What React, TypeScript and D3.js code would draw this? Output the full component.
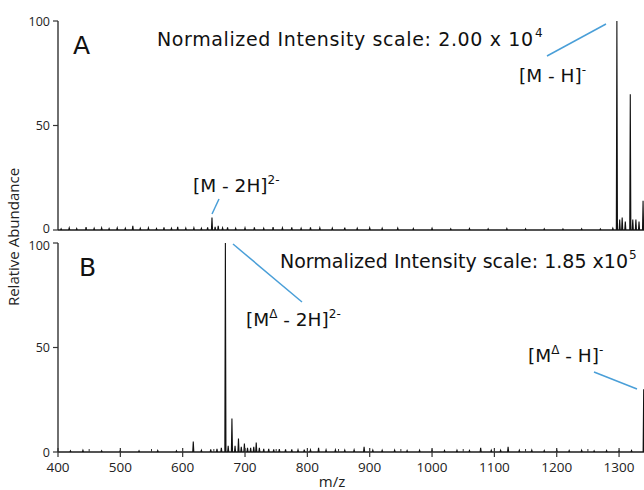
import React from "react";
import * as d3 from "d3";

// Panel A peaks: [m/z, relative abundance]
const peaksA: [number, number][] = [
  [405, 0.6], [418, 1.0], [430, 0.7], [445, 1.4], [458, 0.8], [470, 1.0], [482, 0.7],
  [495, 1.0], [508, 0.8], [520, 2.0], [532, 0.8], [545, 1.0], [558, 0.7], [570, 1.2],
  [582, 0.8], [592, 1.5], [605, 0.9], [618, 1.0], [630, 0.8], [640, 1.2], [647, 6.0],
  [652, 1.5], [657, 2.0], [664, 1.0], [672, 1.2], [685, 0.8], [700, 1.0], [715, 1.2],
  [730, 0.8], [745, 1.4], [760, 1.0], [775, 1.2], [790, 0.8], [805, 1.3], [820, 1.0],
  [840, 0.9], [860, 1.1], [880, 0.8], [900, 1.0], [920, 0.8], [945, 0.9], [970, 0.7],
  [1000, 0.8], [1030, 0.6], [1060, 0.7], [1090, 0.6], [1120, 0.7], [1150, 0.6],
  [1180, 0.6], [1210, 0.5], [1240, 0.6], [1270, 0.5], [1290, 0.8],
  [1296.5, 100], [1301, 5], [1305, 6], [1310, 4], [1318, 65], [1322, 5], [1327, 5],
  [1332, 4], [1338.5, 14],
];

// Panel B peaks
const peaksB: [number, number][] = [
  [420, 0.6], [440, 0.8], [470, 0.6], [500, 0.7], [530, 0.6], [560, 0.7], [590, 0.6],
  [617, 5.0], [630, 0.8], [645, 1.2], [655, 1.5], [662, 2.0], [668.5, 100], [673, 3.0],
  [679, 16], [684, 3.0], [689.5, 6.5], [694, 2.5], [699, 4.0], [704, 2.0], [709, 2.0],
  [714, 2.5], [718, 4.5], [723, 2.0], [730, 1.5], [738, 1.5], [746, 1.3], [755, 1.4],
  [765, 1.2], [775, 1.3], [785, 1.0], [795, 1.1], [805, 1.0], [818, 2.0], [830, 1.0],
  [845, 1.0], [860, 0.9], [875, 1.0], [891, 2.5], [905, 0.9], [920, 0.8], [940, 0.9],
  [960, 0.7], [980, 0.8], [1000, 0.9], [1020, 0.7], [1040, 0.8], [1060, 0.7],
  [1078, 2.0], [1095, 0.8], [1110, 0.8], [1122, 2.5], [1140, 0.8], [1160, 0.9],
  [1180, 0.7], [1200, 0.9], [1220, 0.7], [1240, 0.8], [1260, 0.6], [1280, 0.7],
  [1300, 0.6], [1320, 0.7], [1339.5, 30],
];

const xTicks = [400, 500, 600, 700, 800, 900, 1000, 1100, 1200, 1300];
const xMinorTicks = [450, 550, 650, 750, 850, 950, 1050, 1150, 1250];
const yTicks = [0, 50, 100];

const FONT = "'DejaVu Sans', sans-serif";
const FONT2 = "'Open Sans', 'DejaVu Sans', sans-serif";
const W = 644;
const H = 490;

function spectrumPath(peaks: [number, number][], x: d3.ScaleLinear<number, number>, y: d3.ScaleLinear<number, number>) {
  const pts: [number, number][] = [[400, 0]];
  const sorted = [...peaks].sort((a, b) => a[0] - b[0]);
  for (const [mz, h] of sorted) {
    pts.push([mz - 0.9, 0], [mz, h], [mz + 0.9, 0]);
  }
  pts.push([1345, 0]);
  const line = d3.line<[number, number]>().x((d) => x(d[0])).y((d) => y(d[1]));
  return line(pts) || "";
}

export default function App() {
  const x = d3.scaleLinear().domain([400, 1340]).range([58, 644]);
  const yA = d3.scaleLinear().domain([0, 100]).range([230, 21]);
  const yB = d3.scaleLinear().domain([0, 100]).range([452, 243]);
  const axisColor = "#333";
  const blue = "#4a9fd8";

  const yAxis = (y: d3.ScaleLinear<number, number>, top: boolean) => (
    <g>
      <line x1={58} x2={58} y1={y(100)} y2={y(0)} stroke={axisColor} strokeWidth={1.4} />
      {yTicks.map((t) => (
        <g key={t}>
          <line x1={53} x2={58} y1={y(t)} y2={y(t)} stroke={axisColor} strokeWidth={1.2} />
          <text
            x={50}
            y={y(t) + (top && t === 0 ? 2.5 : t === 100 && !top ? 6.5 : 4.5)}
            textAnchor="end"
            fontSize={12.5}
            fontFamily={FONT2}
            fill="#222"
          >
            {t}
          </text>
        </g>
      ))}
    </g>
  );

  return (
    <svg width={W} height={H} style={{ position: "absolute", left: 0, top: 0, background: "#fff" }}>
      <defs>
        <clipPath id="plotclip">
          <rect x={56} y={0} width={W - 56} height={H} />
        </clipPath>
      </defs>
      {/* Panel A */}
      {yAxis(yA, true)}
      <line x1={58} x2={W} y1={yA(0)} y2={yA(0)} stroke={axisColor} strokeWidth={1.2} />
      <path d={spectrumPath(peaksA, x, yA)} fill="none" stroke="#111" strokeWidth={1.1} clipPath="url(#plotclip)" />

      {/* Panel B */}
      {yAxis(yB, false)}
      <line x1={58} x2={W} y1={yB(0)} y2={yB(0)} stroke={axisColor} strokeWidth={1.2} />
      <path d={spectrumPath(peaksB, x, yB)} fill="none" stroke="#111" strokeWidth={1.1} clipPath="url(#plotclip)" />
      {xTicks.map((t) => (
        <g key={t}>
          <line x1={x(t)} x2={x(t)} y1={yB(0) - 4} y2={yB(0) + 5} stroke={axisColor} strokeWidth={1.2} />
          <text x={x(t)} y={472} textAnchor="middle" fontSize={13.5} fontFamily={FONT2} fill="#222">
            {t}
          </text>
        </g>
      ))}
      {xMinorTicks.map((t) => (
        <line key={t} x1={x(t)} x2={x(t)} y1={yB(0) - 3} y2={yB(0)} stroke={axisColor} strokeWidth={1} />
      ))}
      <text x={332} y={487} textAnchor="middle" fontSize={15} fontFamily={FONT2} fill="#222">
        m/z
      </text>

      {/* y label */}
      <text
        transform="translate(19,237) rotate(-90)"
        textAnchor="middle"
        fontSize={15}
        fontFamily={FONT2}
        fill="#222"
      >
        Relative Abundance
      </text>

      {/* Panel letters */}
      <text x={73} y={54} fontSize={25} fontFamily={FONT} fill="#111">A</text>
      <text x={79} y={276} fontSize={25} fontFamily={FONT} fill="#111">B</text>

      {/* Titles */}
      <text x={157} y={46} fontSize={19} textLength={376} lengthAdjust="spacing" fontFamily={FONT} fill="#111">
        Normalized Intensity scale: 2.00 x 10
      </text>
      <text x={535} y={37} fontSize={12} fontFamily={FONT} fill="#111">4</text>
      <text x={280} y={268} fontSize={19} textLength={348} lengthAdjust="spacing" fontFamily={FONT} fill="#111">
        Normalized Intensity scale: 1.85 x10
      </text>
      <text x={629} y={259} fontSize={12} fontFamily={FONT} fill="#111">5</text>

      {/* Annotations A */}
      <line x1={547} y1={56} x2={606} y2={24} stroke={blue} strokeWidth={1.5} />
      <text x={519} y={82} fontSize={18.5} fontFamily={FONT} fill="#111">
        [M - H]<tspan dy={-8} fontSize={12}>-</tspan>
      </text>
      <line x1={219} y1={199} x2={212} y2={214} stroke={blue} strokeWidth={1.5} />
      <text x={193} y={192} fontSize={18.5} fontFamily={FONT} fill="#111">
        [M - 2H]<tspan dy={-8} fontSize={12}>2-</tspan>
      </text>

      {/* Annotations B */}
      <line x1={233} y1={244} x2={302} y2={302} stroke={blue} strokeWidth={1.5} />
      <text x={246} y={326} fontSize={18.5} fontFamily={FONT} fill="#111">
        [M<tspan dy={-8} fontSize={12}>Δ</tspan><tspan dy={8}> - 2H]</tspan><tspan dy={-8} fontSize={12}>2-</tspan>
      </text>
      <line x1={594} y1={372} x2={637} y2={389} stroke={blue} strokeWidth={1.5} />
      <text x={528} y={362} fontSize={18.5} fontFamily={FONT} fill="#111">
        [M<tspan dy={-8} fontSize={12}>Δ</tspan><tspan dy={8}> - H]</tspan><tspan dy={-8} fontSize={12}>-</tspan>
      </text>
    </svg>
  );
}
